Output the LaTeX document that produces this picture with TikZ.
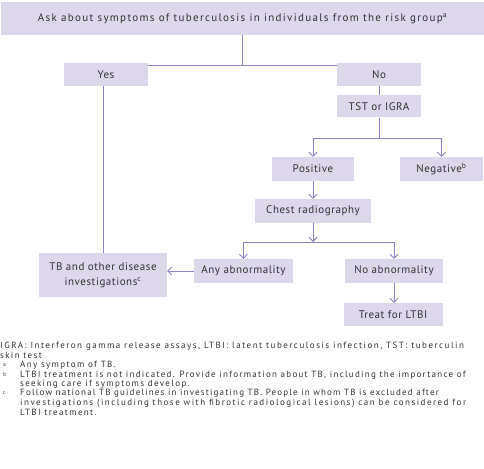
\documentclass[tikz,border=0pt]{standalone}
\usepackage{fontspec}
\setmainfont{PT Sans}
\newfontfamily\topfont[LetterSpace=12]{PT Sans}
\newfontfamily\boxfont[LetterSpace=5]{PT Sans}
\newfontfamily\notefont{PT Sans}
\usetikzlibrary{arrows.meta,calc}
\definecolor{boxfill}{HTML}{DDD7EC}
\definecolor{linec}{HTML}{8A82C4}
\definecolor{txt}{HTML}{333333}
\newcommand{\ls}[1]{\addfontfeature{LetterSpace=#1}}
\newcommand{\mk}[1]{\makebox[17pt][l]{\smash{\raisebox{1.6pt}{\fontsize{5.5}{6}\selectfont #1}}}}
\begin{document}
\begin{tikzpicture}[x=1pt,y=-1pt,
  bx/.style={rectangle,fill=boxfill,draw=none,inner sep=0pt,text=txt,font=\boxfont\fontsize{11}{15}\selectfont,align=center},
  ln/.style={draw=linec,line width=0.9pt},
  ar/.style={ln,-{Straight Barb[length=4pt,width=8pt]}},
  fn/.style={anchor=west,inner sep=0pt,text=txt,font=\notefont\fontsize{9}{11}\selectfont\ls{15}}]
\useasboundingbox (0,0) rectangle (484,468);
\node[bx,minimum width=483pt,minimum height=33pt,font=\topfont\fontsize{11}{13}\selectfont] (top) at (242.5,18.5) {Ask about symptoms of tuberculosis in individuals from the risk group\textsuperscript{a}};
\node[bx,minimum width=84pt,minimum height=23pt] (yes) at (106,74.5) {Yes};
\node[bx,minimum width=84pt,minimum height=23pt] (no) at (379,74.5) {No};
\node[bx,minimum width=84pt,minimum height=22pt] (tst) at (379,106.5) {TST or IGRA};
\node[bx,minimum width=82pt,minimum height=24pt] (pos) at (313,169) {Positive};
\node[bx,minimum width=83pt,minimum height=24pt] (neg) at (441.5,169) {Negative\textsuperscript{b}};
\node[bx,minimum width=116pt,minimum height=24pt] (chest) at (313,211) {Chest radiography};
\node[bx,minimum width=128pt,minimum height=44pt] (tb) at (103,275) {TB and other disease\\investigations\textsuperscript{c}};
\node[bx,minimum width=99pt,minimum height=24pt] (any) at (243.5,271) {Any abnormality};
\node[bx,minimum width=98pt,minimum height=24pt] (noab) at (394,271) {No abnormality};
\node[bx,minimum width=99pt,minimum height=23pt] (treat) at (393,314.5) {Treat for LTBI};
\coordinate (j1) at (242,65);
\coordinate (j2) at (379,138);
\coordinate (j3) at (313,242);
\draw[ln] (top.south -| j1) -- (j1);
\draw[ln] (yes.east |- j1) -- (no.west |- j1);
\draw[ln] (tb.north |- yes.south) -- (tb.north);
\draw[ln] (no.south) -- (tst.north);
\draw[ln] (tst.south) -- (j2);
\draw[ln] (pos.north |- j2) -- (neg.north |- j2);
\draw[ar] (pos.north |- j2) -- (pos.north);
\draw[ar] (neg.north |- j2) -- (neg.north);
\draw[ar] (pos.south) -- (chest.north);
\draw[ar] (chest.south) -- (j3);
\draw[ln] (any.north |- j3) -- (noab.north |- j3);
\draw[ar] (any.north |- j3) -- (any.north);
\draw[ar] (noab.north |- j3) -- (noab.north);
\draw[ar] (any.west) -- (tb.east |- any.west);
\draw[ar] (noab.south) -- (noab.south |- treat.north);
\node[fn] (f1) at (0,346.5) {\ls{16.5}IGRA: Interferon gamma release assays, LTBI: latent tuberculosis infection, TST: tuberculin};
\node[fn] (f2) at (0,355.5) {skin test};
\node[fn] (fa) at (3,365.5) {\mk{a}Any symptom of TB.};
\node[fn] (fb1) at (3,375.5) {\mk{b}\ls{14}LTBI treatment is not indicated. Provide information about TB, including the importance of};
\node[fn] (fb2) at (20,384.5) {seeking care if symptoms develop.};
\node[fn] (fc1) at (3,393.5) {\mk{c}\ls{13}Follow national TB guidelines in investigating TB. People in whom TB is excluded after};
\node[fn] (fc2) at (20,403) {\ls{16.5}investigations (including those with fibrotic radiological lesions) can be considered for};
\node[fn] (fc3) at (20,412.5) {LTBI treatment.};
\end{tikzpicture}
\end{document}
